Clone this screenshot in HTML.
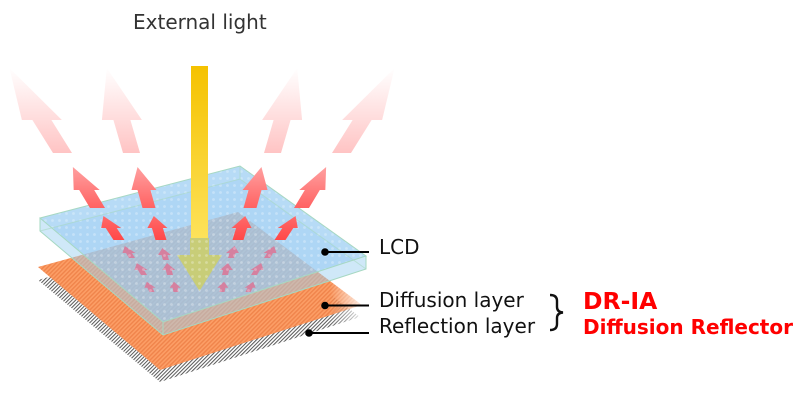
<!DOCTYPE html>
<html>
<head>
<meta charset="utf-8">
<style>
  html,body{margin:0;padding:0;background:#fff;}
  svg{display:block;}
  .lbl{font-family:"DejaVu Sans","Liberation Sans",sans-serif;font-size:20px;fill:#111;}
  .red{font-family:"DejaVu Sans","Liberation Sans",sans-serif;font-weight:bold;fill:#ff0000;}
</style>
</head>
<body>
<svg width="800" height="400" viewBox="0 0 800 400" xmlns="http://www.w3.org/2000/svg">
  <defs>
    <pattern id="os" width="3" height="3" patternUnits="userSpaceOnUse" patternTransform="rotate(45)">
      <rect width="3" height="3" fill="#fc9e66"/>
      <rect width="1.4" height="3" fill="#f0844b"/>
    </pattern>
    <pattern id="hs" width="2.6" height="2.6" patternUnits="userSpaceOnUse" patternTransform="rotate(45)">
      <rect width="2.6" height="2.6" fill="#ffffff"/>
      <rect width="1" height="2.6" fill="#555555"/>
    </pattern>
    <pattern id="dots" width="7" height="7" patternUnits="userSpaceOnUse">
      <circle cx="3.5" cy="3.5" r="1.4" fill="#ffffff" fill-opacity="0.28"/>
    </pattern>
    <linearGradient id="fadeR" gradientUnits="userSpaceOnUse" x1="330" y1="0" x2="368" y2="0">
      <stop offset="0" stop-color="#fff"/>
      <stop offset="1" stop-color="#000"/>
    </linearGradient>
    <mask id="mR" maskUnits="userSpaceOnUse" x="0" y="0" width="800" height="400">
      <rect x="0" y="0" width="800" height="400" fill="url(#fadeR)"/>
    </mask>
    <linearGradient id="g1" x1="0" y1="0" x2="0" y2="1">
      <stop offset="0" stop-color="#ffffff"/>
      <stop offset="0.6" stop-color="#ffdcdc"/>
      <stop offset="1" stop-color="#ffc4c4"/>
    </linearGradient>
    <linearGradient id="g2" x1="0" y1="0" x2="0" y2="1">
      <stop offset="0" stop-color="#ffa0a0"/>
      <stop offset="1" stop-color="#ff6262"/>
    </linearGradient>
    <linearGradient id="g3" x1="0" y1="0" x2="0" y2="1">
      <stop offset="0" stop-color="#ff6a6a"/>
      <stop offset="1" stop-color="#ff4848"/>
    </linearGradient>
    <linearGradient id="gy" x1="0" y1="0" x2="0" y2="1">
      <stop offset="0" stop-color="#f5c200"/>
      <stop offset="1" stop-color="#fde25a"/>
    </linearGradient>
    <clipPath id="topFace">
      <polygon points="40,218 240,166 366,256 163,322"/>
    </clipPath>
    <path id="a1" d="M-9.5,0 V-33 H-20 L0,-85 L20,-33 H9.5 V0Z"/>
    <path id="a1b" d="M-8.5,0 V-33 H-20 L0,-85 L20,-33 H8.5 V0Z"/>
    <path id="a2" d="M-7.5,0 V-18 H-13 L0,-41 L13,-18 H7.5 V0Z"/>
    <path id="a2b" d="M-6.5,0 V-18 H-12.5 L0,-41 L12.5,-18 H6.5 V0Z"/>
    <path id="a3" d="M-5.5,0 V-12 H-10 L0,-24 L10,-12 H5.5 V0Z"/>
    <path id="ap" d="M-3,0 V-5 H-6.5 L0,-12 L6.5,-5 H3 V0Z"/>
  </defs>

  <!-- Reflection layer -->
  <polygon points="38,280 238,224 360,317 160,382" fill="url(#hs)" mask="url(#mR)"/>
  <!-- Diffusion layer -->
  <polygon points="38,267 238,212 362,305 160,370" fill="url(#os)" mask="url(#mR)"/>

  <!-- LCD side faces -->
  <polygon points="40,218 163,322 163,335 40,231" fill="#9fd1f1" fill-opacity="0.5"/>
  <polygon points="163,322 366,256 366,269 163,335" fill="#9fd1f1" fill-opacity="0.5"/>
  <!-- LCD top face -->
  <polygon points="40,218 240,166 366,256 163,322" fill="#9accf3" fill-opacity="0.8"/>
  <!-- lighter band along back edges -->
  <polygon points="40,218 240,166 366,256 366,269 240,179 40,231" fill="#ffffff" fill-opacity="0.12" clip-path="url(#topFace)"/>

  <!-- pink diffused arrows (inside) -->
  <g fill="#d5809f">
    <use href="#ap" transform="translate(132,258) skewX(31)"/>
    <use href="#ap" transform="translate(166,260) skewX(16.7)"/>
    <use href="#ap" transform="translate(144,275) skewX(31)"/>
    <use href="#ap" transform="translate(170,275) skewX(14)"/>
    <use href="#ap" transform="translate(152,292) skewX(26.6) scale(0.85)"/>
    <use href="#ap" transform="translate(176,292) skewX(11.3) scale(0.85)"/>
    <use href="#ap" transform="translate(231,258) skewX(-16.7)"/>
    <use href="#ap" transform="translate(267,258) skewX(-31)"/>
    <use href="#ap" transform="translate(225,275) skewX(-14)"/>
    <use href="#ap" transform="translate(254,275) skewX(-31)"/>
    <use href="#ap" transform="translate(222,292) skewX(-11.3) scale(0.85)"/>
    <use href="#ap" transform="translate(248,292) skewX(-26.6) scale(0.85)"/>
  </g>

  <!-- olive arrow (through LCD) -->
  <path d="M190,238 L209,238 L209,255 L222,255 L199.5,291 L177,255 L190,255 Z" fill="#c8cd78"/>

  <!-- dot texture -->
  <rect x="0" y="150" width="400" height="190" fill="url(#dots)" clip-path="url(#topFace)"/>

  <!-- LCD edges -->
  <g fill="none" stroke="#a6d8c2" stroke-width="1">
    <polygon points="40,218 240,166 366,256 163,322"/>
    <polyline points="40,218 40,231 163,335 366,269 366,256"/>
    <line x1="163" y1="322" x2="163" y2="335"/>
    <polyline points="40,231 240,179 366,269" stroke-opacity="0.6"/>
    <line x1="240" y1="166" x2="240" y2="179" stroke-opacity="0.6"/>
  </g>

  <!-- tier 3 red arrows -->
  <g fill="url(#g3)">
    <use href="#a3" transform="translate(119,240) skewX(33)"/>
    <use href="#a3" transform="translate(161,240) skewX(16.7)"/>
    <g transform="matrix(-1 0 0 1 399 0)">
      <use href="#a3" transform="translate(119,240) skewX(33)"/>
      <use href="#a3" transform="translate(161,240) skewX(16.7)"/>
    </g>
  </g>

  <!-- tier 2 red arrows -->
  <g fill="url(#g2)">
    <use href="#a2" transform="translate(97.5,208) skewX(31)"/>
    <use href="#a2b" transform="translate(149,208) skewX(15.6)"/>
    <g transform="matrix(-1 0 0 1 399 0)">
      <use href="#a2" transform="translate(97.5,208) skewX(31)"/>
      <use href="#a2b" transform="translate(149,208) skewX(15.6)"/>
    </g>
  </g>

  <!-- tier 1 faded arrows -->
  <g fill="url(#g1)">
    <use href="#a1" transform="translate(62.5,153) skewX(32)"/>
    <use href="#a1b" transform="translate(131.5,153) skewX(16.2)"/>
    <g transform="matrix(-1 0 0 1 404 0)">
      <use href="#a1" transform="translate(62.5,153) skewX(32)"/>
      <use href="#a1b" transform="translate(131.5,153) skewX(16.2)"/>
    </g>
  </g>

  <!-- external light bar -->
  <rect x="191" y="66" width="17" height="172" fill="url(#gy)"/>

  <!-- title -->
  <text x="133" y="29" font-family="DejaVu Sans, Liberation Sans, sans-serif" font-size="20" fill="#333">External light</text>

  <!-- leaders -->
  <g stroke="#000" stroke-width="2">
    <line x1="325" y1="252" x2="369" y2="252"/>
    <line x1="325" y1="305.5" x2="369" y2="305.5"/>
    <line x1="309" y1="333" x2="369" y2="333"/>
  </g>
  <g fill="#000">
    <circle cx="325" cy="252" r="3.8"/>
    <circle cx="325" cy="305.5" r="3.8"/>
    <circle cx="309" cy="333" r="3.8"/>
  </g>

  <text class="lbl" x="379" y="254">LCD</text>
  <text class="lbl" x="379" y="307">Diffusion layer</text>
  <text class="lbl" x="379" y="333">Reflection layer</text>

  <!-- brace -->
  <path d="M550,295 Q557,295 557,301 L557,307 Q557,312 563,312.5 Q557,313 557,318 L557,324 Q557,330 550,330" fill="none" stroke="#111" stroke-width="2.4"/>

  <text class="red" x="583" y="309" font-size="23.5">DR-IA</text>
  <text class="red" x="583" y="334" font-size="20">Diffusion Reflector</text>
</svg>
</body>
</html>
